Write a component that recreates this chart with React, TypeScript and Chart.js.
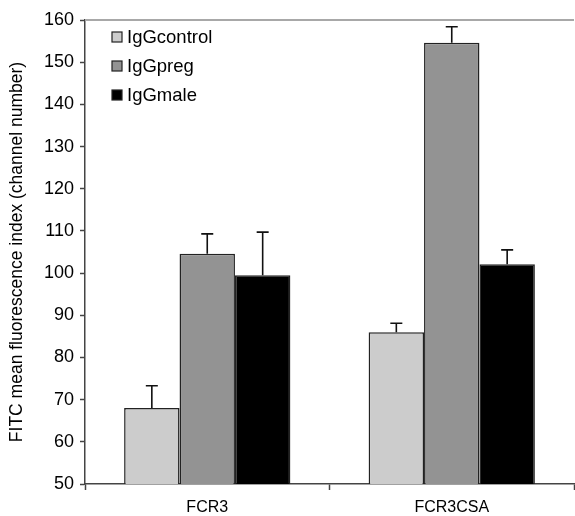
import React, { useEffect, useRef } from "react";
import { Chart, registerables } from "chart.js";

Chart.register(...registerables);

const categories = ["FCR3", "FCR3CSA"];
const seriesNames = ["IgGcontrol", "IgGpreg", "IgGmale"];
const igGcontrol = [68, 86];
const igGpreg = [104.6, 154.6];
const igGmale = [99.5, 102.1];
const igGcontrolErr = [5.3, 2.1];
const igGpregErr = [4.7, 3.8];
const igGmaleErr = [10.2, 3.4];
const yTicks = [50, 60, 70, 80, 90, 100, 110, 120, 130, 140, 150, 160];
const yTitle = "FITC mean fluorescence index (channel number)";

const colors = ["#cccccc", "#939393", "#000000"];
const FONT = "'Liberation Sans', Arial, Helvetica, sans-serif";

const errorBarPlugin = {
  id: "errorBars",
  afterDatasetsDraw(chart: any) {
    const ctx = chart.ctx;
    const y = chart.scales.y;
    ctx.save();
    ctx.strokeStyle = "#111";
    ctx.lineWidth = 1.6;
    chart.data.datasets.forEach((ds: any, di: number) => {
      const meta = chart.getDatasetMeta(di);
      meta.data.forEach((el: any, i: number) => {
        const top = y.getPixelForValue(ds.data[i] + ds.errors[i]);
        ctx.beginPath();
        ctx.moveTo(el.x, el.y);
        ctx.lineTo(el.x, top);
        ctx.moveTo(el.x - 6, top);
        ctx.lineTo(el.x + 6, top);
        ctx.stroke();
      });
    });
    ctx.restore();
  },
};

const framePlugin = {
  id: "frame",
  afterDraw(chart: any) {
    const ctx = chart.ctx;
    const a = chart.chartArea;
    ctx.save();
    ctx.strokeStyle = "#a8a8a8";
    ctx.lineWidth = 2;
    ctx.beginPath();
    ctx.moveTo(a.left, a.top);
    ctx.lineTo(a.right, a.top);
    ctx.stroke();
    // legend
    ctx.font = `18.5px ${FONT}`;
    ctx.textBaseline = "middle";
    ctx.textAlign = "left";
    chart.data.datasets.forEach((ds: any, i: number) => {
      const cy = a.top + 17 + i * 29;
      const bx = a.left + 27;
      ctx.fillStyle = ds.backgroundColor;
      ctx.fillRect(bx, cy - 5, 10, 10);
      ctx.strokeStyle = "#222";
      ctx.lineWidth = 1.2;
      ctx.strokeRect(bx, cy - 5, 10, 10);
      ctx.fillStyle = "#000";
      ctx.fillText(ds.label, bx + 15, cy + 1);
    });
    ctx.restore();
  },
};

export default function App() {
  const ref = useRef<HTMLCanvasElement>(null);
  useEffect(() => {
    document.body.style.margin = "0";
    const values = [igGcontrol, igGpreg, igGmale];
    const errs = [igGcontrolErr, igGpregErr, igGmaleErr];
    const chart = new Chart(ref.current!, {
      type: "bar",
      data: {
        labels: categories,
        datasets: seriesNames.map((n, i) => ({
          label: n,
          data: values[i],
          errors: errs[i],
          backgroundColor: colors[i],
          borderColor: "#222",
          borderWidth: 1.5,
          categoryPercentage: 0.68,
          barPercentage: 1,
        })) as any,
      },
      options: {
        animation: false,
        responsive: false,
        maintainAspectRatio: false,
        layout: { padding: { top: 20, right: 1, left: 7, bottom: 0 } },
        plugins: { legend: { display: false }, tooltip: { enabled: false } },
        scales: {
          x: {
            grid: {
              offset: true,
              drawOnChartArea: false,
              tickLength: 6,
              color: "#444",
              tickWidth: 1.5,
            },
            border: { color: "#444", width: 1.5 },
            ticks: {
              color: "#000",
              font: { family: FONT, size: 16 },
              padding: 8,
            },
            afterFit(s: any) {
              s.height = 32;
            },
          },
          y: {
            min: 50,
            max: 160,
            afterBuildTicks(s: any) {
              s.ticks = yTicks.map((v) => ({ value: v }));
            },
            grid: {
              drawOnChartArea: false,
              tickLength: 5,
              color: "#444",
              tickWidth: 1.5,
            },
            border: { color: "#444", width: 1.5 },
            ticks: {
              color: "#000",
              font: { family: FONT, size: 18 },
              padding: 6,
            },
            title: {
              display: true,
              text: yTitle,
              color: "#000",
              font: { family: FONT, size: 17.5 },
              padding: 0,
            },
            afterFit(s: any) {
              s.width = 78;
            },
          },
        },
      },
      plugins: [errorBarPlugin, framePlugin],
    });
    return () => chart.destroy();
  }, []);
  return <canvas ref={ref} width={575} height={516} style={{ display: "block" }} />;
}
